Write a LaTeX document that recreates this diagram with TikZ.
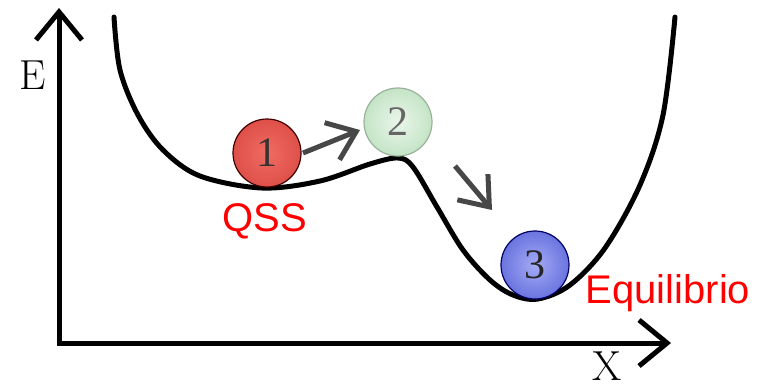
\documentclass[tikz,border=0pt]{standalone}
\usepackage{fontspec}
\newfontfamily\labelfont{Liberation Sans}
\newfontfamily\digitfont{Liberation Serif}
\usetikzlibrary{arrows.meta}
\definecolor{qsred}{HTML}{FF0000}
\definecolor{rin}{HTML}{F06C63}
\definecolor{rout}{HTML}{DE5049}
\definecolor{gin}{HTML}{EAF6EA}
\definecolor{gout}{HTML}{C4E4C6}
\definecolor{bin}{HTML}{A4ABF6}
\definecolor{bout}{HTML}{6A74DE}
\tikzset{
  axis/.style={line width=5pt,-{Straight Barb[length=28pt,width=46pt,line width=5pt]}},
  move/.style={line width=5pt,draw={black!72},-{Straight Barb[length=26pt,width=40pt,line width=5pt]}},
  ballnode/.style={circle,minimum size=68pt,inner sep=0pt,line width=1.2pt,font=\digitfont\fontsize{42}{42}\selectfont},
  redlabel/.style={text=qsred,font=\labelfont\fontsize{40}{40}\selectfont,inner sep=0pt},
  axlabel/.style={font=\fontsize{42}{42}\selectfont,inner sep=0pt}
}
\begin{document}
\begin{tikzpicture}[x=1pt,y=-1pt]
\useasboundingbox (0,0) rectangle (771,388);
% axes
\coordinate (ytop) at (59,8);
\coordinate (xend) at (671,343);
\draw[axis] (59,345.5) -- (ytop);
\draw[axis] (56.5,343) -- (xend);
\node[axlabel] (E) at (33,75) {E};
\node[axlabel] (X) at (607,366) {X};
% energy curve
\draw[line width=5pt,line cap=round,line join=round] plot[smooth,tension=0.55] coordinates{
 (114,17) (120,70) (138,115) (163,150) (200,176) (262,188) (320,181) (370,164) (398,158) (413,167)
 (437,207) (463,250) (490,280) (513,295) (538,299) (570,285) (605,248) (640,185) (663,115) (675,17)};
% balls
\node[ballnode,draw={black!75!red},inner color=rin,outer color=rout,text=black!80] (b1) at (267,153) {1};
\node[ballnode,draw={green!25!black!40},inner color=gin,outer color=gout,text=black!60] (b2) at (398,122) {2};
\node[ballnode,draw={blue!40!black},inner color=bin,outer color=bout,text=black!85] (b3) at (535,265) {3};
% movement arrows
\coordinate (a1s) at (303,153);
\coordinate (a1e) at (360,130);
\coordinate (a2s) at (455,166);
\coordinate (a2e) at (492,210);
\draw[move] (a1s) -- (a1e);
\draw[move] (a2s) -- (a2e);
% labels
\node[redlabel] (qss) at (265,221) {QSS};
\node[redlabel] (eq) at (668,293) {Equilibrio};
\end{tikzpicture}
\end{document}
